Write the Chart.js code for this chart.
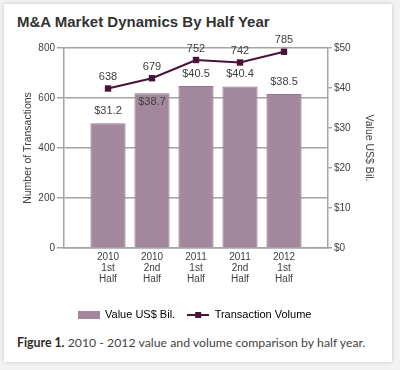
<!DOCTYPE html>
<html>
<head>
<meta charset="utf-8">
<script src="https://cdn.jsdelivr.net/npm/chart.js@4"></script>
<style>
  body { margin: 0; width: 400px; height: 370px; overflow: hidden; background: #f1f2f1; font-family: "Liberation Sans", Arial, sans-serif; }
  .card { position: absolute; left: 4px; top: 4px; width: 388px; height: 358px; background: #fff; box-shadow: 0 0 4px rgba(0,0,0,0.18); }
  .title { position: absolute; left: 17px; top: 13px; font-weight: bold; font-size: 15px; line-height: 18px; color: #333; white-space: nowrap; }
  .wrap { position: absolute; left: 0; top: 0; width: 400px; height: 330px; }
  .caption { position: absolute; left: 17px; top: 334px; font-family: Lato, sans-serif; font-size: 12.3px; line-height: 18px; color: #444; white-space: nowrap; }
  .caption b { color: #2a2a2a; }
</style>
</head>
<body>
<div class="card"></div>
<div class="title">M&amp;A Market Dynamics By Half Year</div>
<div class="wrap"><canvas id="chart" width="400" height="330"></canvas></div>
<div class="caption"><b>Figure 1.</b> 2010 - 2012 value and volume comparison by half year.</div>
<script>
// data
const categories = ['2010 1st Half', '2010 2nd Half', '2011 1st Half', '2011 2nd Half', '2012 1st Half'];
const valueBil = [31.2, 38.7, 40.5, 40.4, 38.5];
const volume = [638, 679, 752, 742, 785];
const leftTicks = [0, 200, 400, 600, 800];
const rightTicks = [0, 10, 20, 30, 40, 50];

const barColor = '#a3879c';
const barEdge = '#927590';
const lineColor = '#4b1139';
const gridColor = '#a4a4a4';
const textColor = '#404040';
const font = '"Liberation Sans", Arial, sans-serif';

function makeSwatch(draw) {
  const c = document.createElement('canvas');
  c.width = 22; c.height = 9;
  draw(c.getContext('2d'));
  return c;
}
const barSwatch = makeSwatch(ctx => { ctx.fillStyle = barColor; ctx.fillRect(0, 1, 22, 8); });
const lineSwatch = makeSwatch(ctx => {
  ctx.strokeStyle = lineColor; ctx.lineWidth = 2;
  ctx.beginPath(); ctx.moveTo(0, 5); ctx.lineTo(22, 5); ctx.stroke();
  ctx.fillStyle = lineColor; ctx.fillRect(8, 2, 6, 6);
});

const valueLabels = {
  id: 'valueLabels',
  afterDatasetsDraw(chart) {
    const ctx = chart.ctx;
    const bars = chart.getDatasetMeta(0).data;
    const points = chart.getDatasetMeta(1).data;
    ctx.save();
    ctx.font = '11px ' + font;
    ctx.fillStyle = textColor;
    ctx.textAlign = 'center';
    ctx.textBaseline = 'middle';
    points.forEach((p, i) => ctx.fillText(String(volume[i]), p.x, p.y - 11.5));
    bars.forEach((b, i) => {
      let y = b.y - 12;
      // label would sit on the line: put it inside the bar
      if (Math.abs(y - points[i].y) < 9) y = b.y + 9;
      ctx.fillText('$' + valueBil[i].toFixed(1), b.x, y);
    });
    ctx.restore();
  }
};

new Chart(document.getElementById('chart'), {
  type: 'bar',
  data: {
    datasets: [
      {
        type: 'bar',
        label: 'Value US$ Bil.',
        data: categories.map((c, i) => ({ x: i + 1, y: valueBil[i] })),
        yAxisID: 'y1',
        backgroundColor: barColor,
        borderColor: barEdge,
        borderWidth: 1,
        barPercentage: 0.8,
        categoryPercentage: 1,
        order: 1
      },
      {
        type: 'line',
        label: 'Transaction Volume',
        data: categories.map((c, i) => ({ x: i + 1, y: volume[i] })),
        yAxisID: 'y',
        borderColor: lineColor,
        borderWidth: 2,
        pointStyle: 'rect',
        pointRadius: 4.5,
        pointBackgroundColor: lineColor,
        pointBorderColor: lineColor,
        pointBorderWidth: 0,
        order: 0
      }
    ]
  },
  options: {
    responsive: false,
    animation: false,
    layout: { padding: { top: 48, left: 0, right: 11, bottom: 0 } },
    scales: {
      x: {
        type: 'linear',
        min: 0,
        max: 6,
        offset: false,
        grid: { display: false, drawTicks: false },
        border: { display: true, color: gridColor, width: 1.5 },
        afterFit(scale) { scale.height = 49; },
        ticks: {
          stepSize: 1,
          autoSkip: false,
          maxRotation: 0,
          padding: 4,
          color: textColor,
          font: { family: font, size: 10, lineHeight: 1.1 },
          callback: v => (v >= 1 && v <= categories.length) ? categories[v - 1].split(' ') : ''
        }
      },
      y: {
        position: 'left',
        min: 0,
        max: 800,
        afterBuildTicks(scale) { scale.ticks = leftTicks.map(v => ({ value: v })); },
        afterFit(scale) { scale.width = 64; },
        grid: { color: gridColor, lineWidth: 1.5, tickLength: 7 },
        border: { display: true, color: gridColor, width: 1.5 },
        ticks: { padding: 2, color: textColor, font: { family: font, size: 10 } },
        title: { display: true, text: 'Number of Transactions', color: textColor, font: { family: font, size: 10.5 }, padding: { top: 22, bottom: 0 } }
      },
      y1: {
        position: 'right',
        min: 0,
        max: 50,
        afterBuildTicks(scale) { scale.ticks = rightTicks.map(v => ({ value: v })); },
        afterFit(scale) { scale.width = 61; },
        grid: { drawOnChartArea: false, color: gridColor, lineWidth: 1.5, tickLength: 4 },
        border: { display: true, color: gridColor, width: 1.5 },
        ticks: { padding: 2, color: textColor, font: { family: font, size: 10 }, callback: v => '$' + v },
        title: { display: true, text: 'Value US$ Bil.', color: textColor, font: { family: font, size: 10.5 }, padding: { top: 14, bottom: 0 } }
      }
    },
    plugins: {
      tooltip: { enabled: false },
      legend: {
        position: 'bottom',
        labels: {
          usePointStyle: true,
          pointStyleWidth: 22,
          padding: 12,
          color: textColor,
          font: { family: font, size: 11 },
          generateLabels: () => [
            { text: 'Value US$ Bil.', pointStyle: barSwatch, fillStyle: barColor, strokeStyle: barColor, lineWidth: 0, hidden: false, datasetIndex: 0 },
            { text: 'Transaction Volume', pointStyle: lineSwatch, fillStyle: lineColor, strokeStyle: lineColor, lineWidth: 0, hidden: false, datasetIndex: 1 }
          ]
        }
      }
    }
  },
  plugins: [valueLabels]
});
</script>
</body>
</html>
